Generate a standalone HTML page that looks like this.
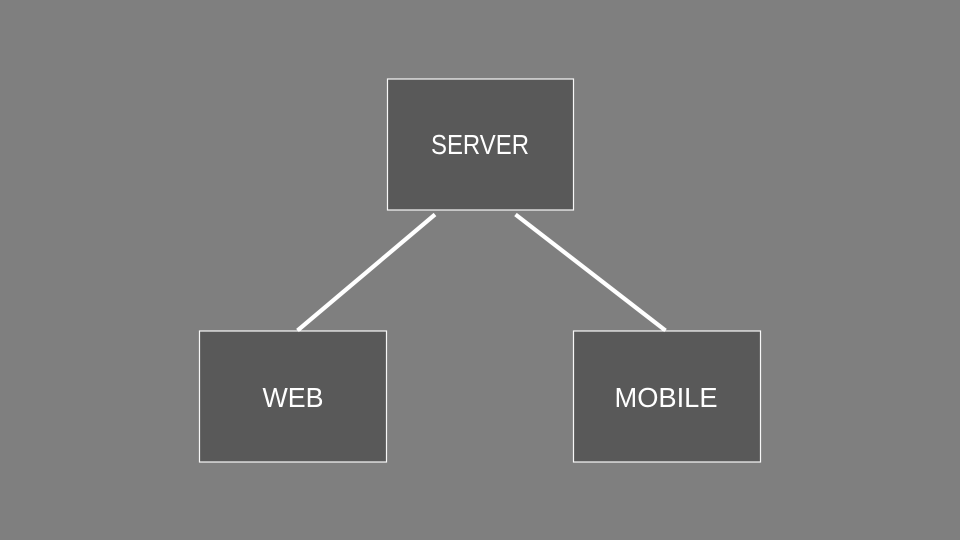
<!DOCTYPE html>
<html>
<head>
<meta charset="utf-8">
<style>
html,body{margin:0;padding:0;background:#7f7f7f;width:960px;height:540px;overflow:hidden}
svg{display:block}
text{font-family:"Liberation Sans",sans-serif;font-size:28px;fill:#fff}
</style>
</head>
<body>
<svg width="960" height="540" viewBox="0 0 960 540" xmlns="http://www.w3.org/2000/svg">
<rect width="960" height="540" fill="#7f7f7f"/>
<g fill="#595959" stroke="#f7f7f7" stroke-width="1.2">
<rect x="387.5" y="79" width="186" height="131"/>
<rect x="199.5" y="331" width="187" height="131"/>
<rect x="573.5" y="331" width="187" height="131"/>
</g>
<g stroke="#ffffff" stroke-width="4.2" fill="none">
<line x1="435" y1="214.5" x2="297.5" y2="330.5"/>
<line x1="515.5" y1="214.5" x2="665.5" y2="330.5"/>
</g>
<text x="431" y="154" textLength="98" lengthAdjust="spacingAndGlyphs">SERVER</text>
<text x="262.5" y="407" textLength="61" lengthAdjust="spacingAndGlyphs">WEB</text>
<text x="614.5" y="407" textLength="103" lengthAdjust="spacingAndGlyphs">MOBILE</text>
</svg>
</body>
</html>
